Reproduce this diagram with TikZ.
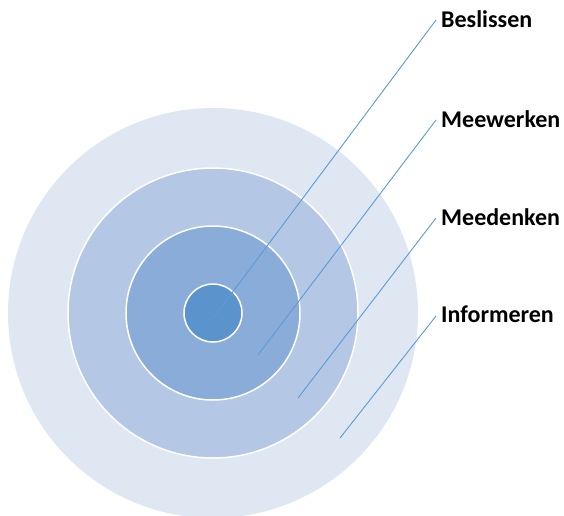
\documentclass[tikz,border=0pt]{standalone}
\usepackage{fontspec}
\setmainfont{Carlito}
\definecolor{ring1}{HTML}{DFE7F3}
\definecolor{ring2}{HTML}{B4C8E5}
\definecolor{ring3}{HTML}{8AACD8}
\definecolor{ring4}{HTML}{5B94CD}
\definecolor{lineblue}{HTML}{5B9BD5}
\begin{document}
\begin{tikzpicture}[x=1pt,y=-1pt,
  ring/.style={circle, draw=white, line width=1.5pt, inner sep=0pt},
  lab/.style={font=\bfseries\fontsize{24}{28}\selectfont, anchor=base west, inner sep=0pt, text=black},
  conn/.style={draw=lineblue, line width=0.9pt}]
\useasboundingbox (0,0) rectangle (564,515);
\fill[white] (0,0) rectangle (564,515);
\node[ring, fill=ring1, draw=none, minimum size=410pt] (c1) at (213,313) {};
\node[ring, fill=ring2, minimum size=290pt] (c2) at (213,313) {};
\node[ring, fill=ring3, minimum size=174pt] (c3) at (213,313) {};
\node[ring, fill=ring4, minimum size=58pt] (c4) at (213,313) {};
\node[lab] (l1) at (441,27) {Beslissen};
\node[lab] (l2) at (441,127) {Meewerken};
\node[lab] (l3) at (441,225) {Meedenken};
\node[lab] (l4) at (441,322) {Informeren};
\coordinate (a1) at (214,317);
\coordinate (b1) at (436,20);
\coordinate (a2) at (258,355);
\coordinate (b2) at (436,120);
\coordinate (a3) at (298,398);
\coordinate (b3) at (436,218);
\coordinate (a4) at (340,438);
\coordinate (b4) at (436,316);
\draw[conn] (a1) -- (b1);
\draw[conn] (a2) -- (b2);
\draw[conn] (a3) -- (b3);
\draw[conn] (a4) -- (b4);
\end{tikzpicture}
\end{document}
